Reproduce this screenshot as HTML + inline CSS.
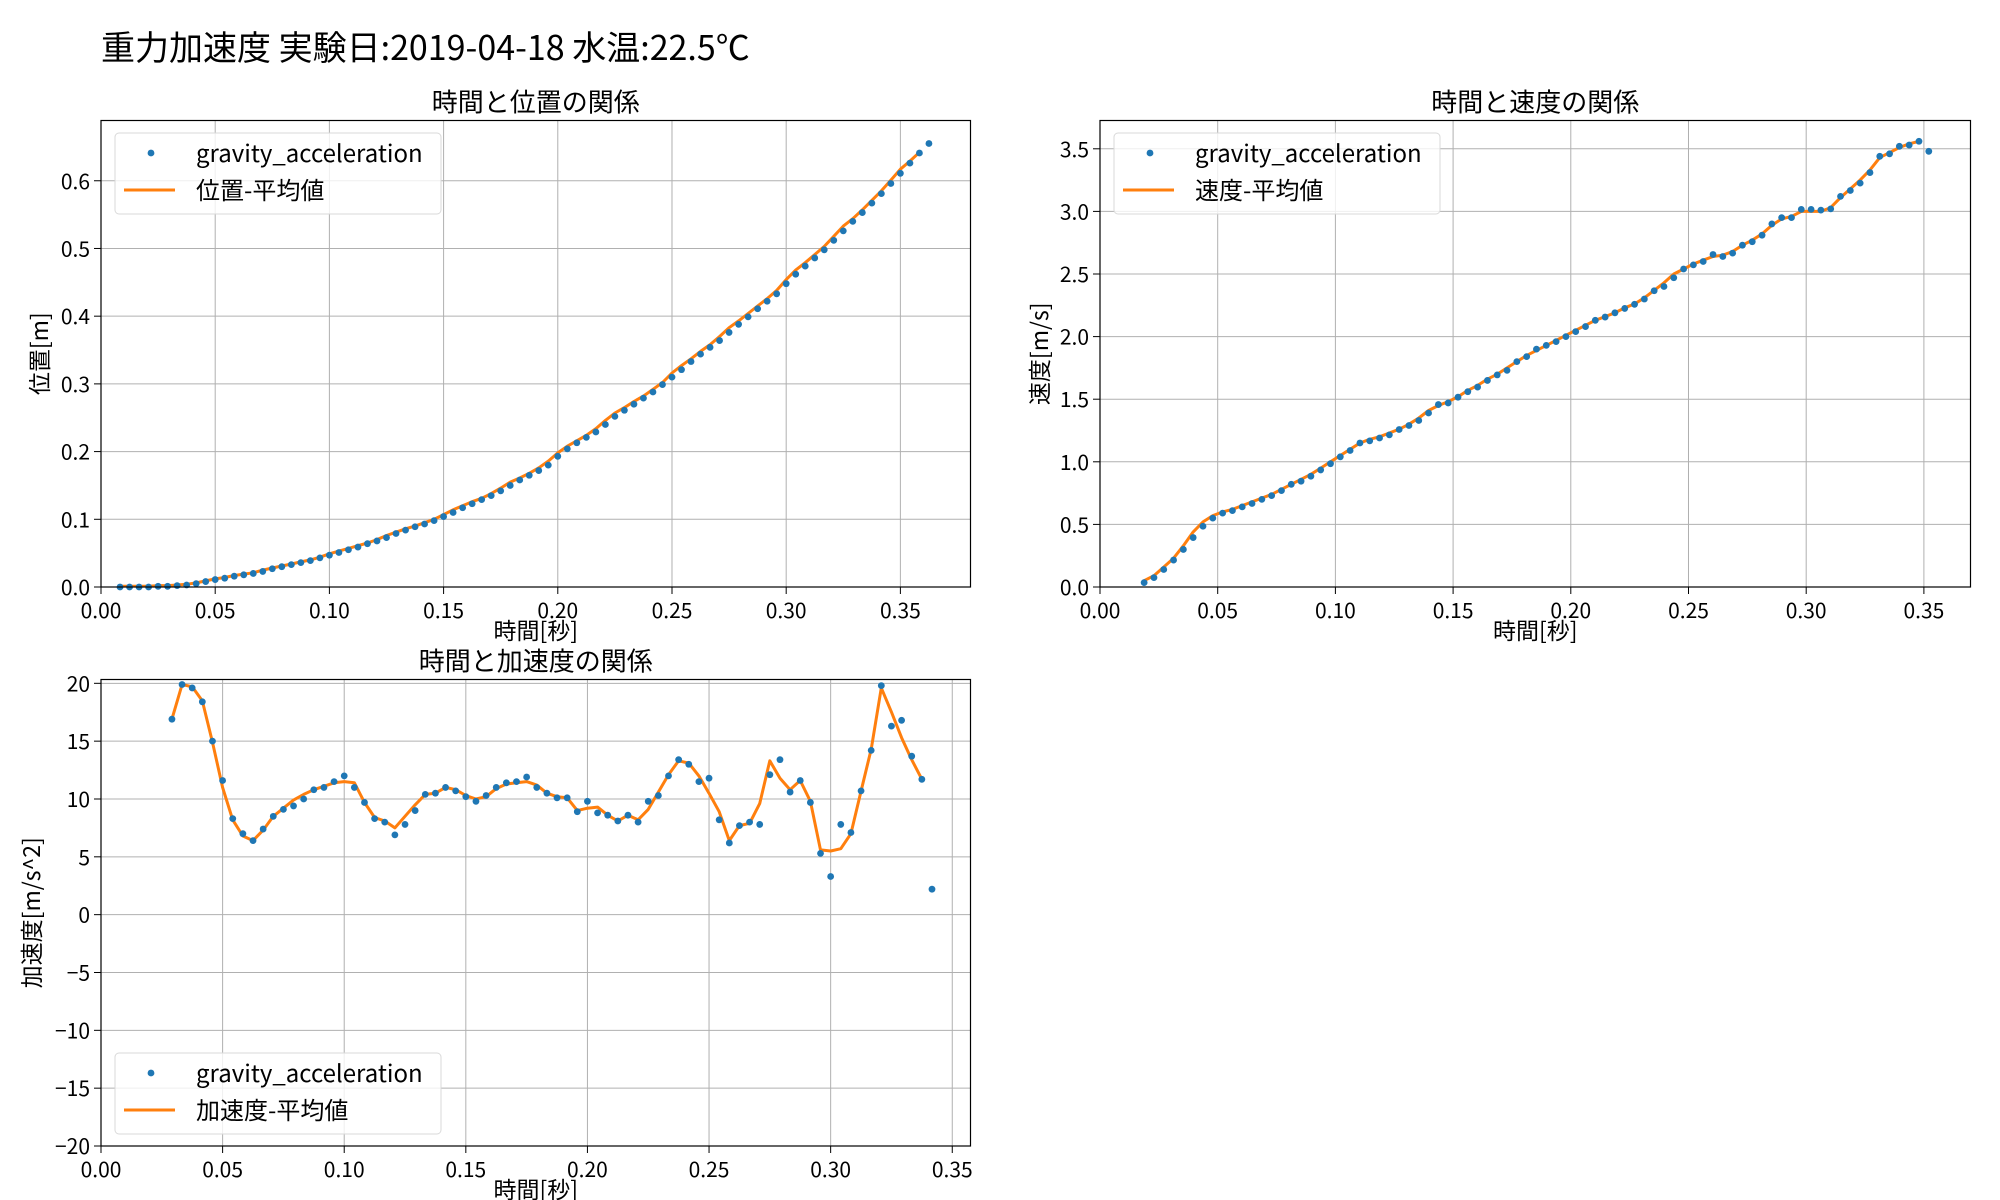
<!DOCTYPE html>
<html><head><meta charset="utf-8">
<style>
html,body{margin:0;padding:0;background:#fff;}
svg{display:block;font-family:"Noto Sans CJK JP","Liberation Sans",sans-serif;}
</style></head>
<body>
<svg id="fig" width="2000" height="1200" viewBox="0 0 2000 1200" xmlns="http://www.w3.org/2000/svg">
<text x="101" y="60" font-size="34" fill="#000">重力加速度 実験日:2019-04-18 水温:22.5℃</text>
</svg>
<script>
// ---------- data ----------
const posTimeIdx0 = 2; // frame index start (1/240 s)
const posValues = [0.000,0.000,0.000,0.000,0.001,0.001,0.002,0.003,0.005,0.008,0.011,0.013,0.016,0.018,0.020,0.023,0.027,0.030,0.033,0.036,0.039,0.043,0.047,0.051,0.055,0.059,0.064,0.068,0.073,0.079,0.084,0.089,0.093,0.098,0.104,0.110,0.117,0.123,0.129,0.135,0.142,0.150,0.158,0.165,0.172,0.180,0.193,0.204,0.213,0.221,0.229,0.240,0.252,0.261,0.270,0.279,0.288,0.299,0.310,0.321,0.333,0.344,0.354,0.364,0.376,0.388,0.399,0.411,0.422,0.433,0.448,0.462,0.474,0.486,0.498,0.512,0.526,0.540,0.553,0.567,0.581,0.596,0.611,0.626,0.641,0.655];
const posMean = [0.001,0.001,0.001,0.001,0.002,0.002,0.003,0.004,0.006,0.009,0.012,0.014,0.017,0.019,0.021,0.025,0.028,0.031,0.034,0.037,0.040,0.044,0.049,0.053,0.057,0.061,0.065,0.070,0.076,0.081,0.086,0.090,0.095,0.100,0.107,0.114,0.120,0.126,0.131,0.138,0.146,0.155,0.161,0.168,0.176,0.186,0.198,0.208,0.216,0.224,0.234,0.246,0.257,0.265,0.274,0.282,0.292,0.302,0.316,0.327,0.337,0.348,0.358,0.370,0.383,0.393,0.404,0.415,0.426,0.438,0.454,0.468,0.479,0.491,0.503,0.518,0.533,0.544,0.557,0.571,0.585,0.601,0.617,0.629,0.642];
const velTimeIdx0 = 4.5;
const velValues = [0.035,0.075,0.14,0.215,0.30,0.395,0.485,0.55,0.59,0.61,0.64,0.667,0.70,0.73,0.77,0.82,0.845,0.885,0.935,0.985,1.04,1.09,1.15,1.167,1.19,1.215,1.258,1.29,1.33,1.39,1.457,1.47,1.516,1.56,1.597,1.65,1.694,1.73,1.80,1.84,1.90,1.93,1.96,2.0,2.04,2.08,2.13,2.156,2.19,2.225,2.258,2.30,2.366,2.40,2.47,2.54,2.573,2.60,2.656,2.64,2.667,2.73,2.758,2.81,2.90,2.95,2.95,3.016,3.016,3.01,3.02,3.12,3.167,3.226,3.31,3.44,3.46,3.52,3.53,3.56,3.48];
const velMean = [0.05,0.09,0.16,0.23,0.33,0.44,0.52,0.57,0.60,0.62,0.65,0.68,0.71,0.74,0.78,0.82,0.86,0.90,0.95,1.00,1.05,1.10,1.15,1.18,1.20,1.23,1.26,1.30,1.35,1.41,1.45,1.48,1.52,1.57,1.61,1.66,1.70,1.75,1.80,1.85,1.89,1.93,1.97,2.01,2.05,2.09,2.13,2.16,2.19,2.23,2.26,2.31,2.37,2.43,2.50,2.54,2.58,2.61,2.64,2.65,2.68,2.73,2.77,2.82,2.89,2.94,2.96,3.00,3.00,3.00,3.03,3.11,3.18,3.25,3.33,3.43,3.47,3.51,3.54,3.56];
const accTimeIdx0 = 7;
const accValues = [16.9,19.9,19.6,18.4,15.0,11.6,8.3,7.0,6.4,7.4,8.5,9.1,9.4,10.0,10.8,11.0,11.5,12.0,11.0,9.7,8.3,8.0,6.9,7.8,9.0,10.4,10.5,11.0,10.7,10.2,9.8,10.3,11.0,11.4,11.5,11.9,11.0,10.5,10.1,10.1,8.9,9.8,8.8,8.6,8.1,8.6,8.0,9.8,10.3,12.0,13.4,13.0,11.5,11.8,8.2,6.2,7.7,8.0,7.8,12.1,13.4,10.6,11.6,9.7,5.3,3.3,7.8,7.1,10.7,14.2,19.8,16.3,16.8,13.7,11.7,2.2];
const accMean = [16.9,19.9,19.7,18.5,14.9,11.0,8.2,6.8,6.4,7.3,8.5,9.2,9.9,10.4,10.8,11.1,11.4,11.5,11.4,9.7,8.4,8.1,7.5,8.5,9.5,10.4,10.5,11.0,10.8,10.3,10.0,10.2,10.9,11.3,11.4,11.5,11.2,10.5,10.2,10.1,9.0,9.2,9.3,8.6,8.1,8.6,8.2,9.1,10.6,12.1,13.3,13.1,12.0,10.5,8.9,6.4,7.7,7.9,9.6,13.3,11.8,10.8,11.6,9.8,5.6,5.5,5.7,7.0,10.7,14.3,19.6,17.5,15.3,13.4,11.7];
const xTicks1 = ["0.00","0.05","0.10","0.15","0.20","0.25","0.30","0.35"];
const yTicks1 = ["0.0","0.1","0.2","0.3","0.4","0.5","0.6"];
const yTicks2 = ["0.0","0.5","1.0","1.5","2.0","2.5","3.0","3.5"];
const yTicks3 = ["−20","−15","−10","−5","0","5","10","15","20"];
const yTickVals3 = [-20,-15,-10,-5,0,5,10,15,20];

// ---------- drawing ----------
const NS = "http://www.w3.org/2000/svg";
const svg = document.getElementById('fig');
function mk(tag, attrs, parent){ const e=document.createElementNS(NS,tag); for(const k in attrs) e.setAttribute(k,attrs[k]); (parent||svg).appendChild(e); return e; }

function chart(cfg){
  const g = mk('g',{});
  
  
  const L=cfg.L,R=cfg.R,T=cfg.T,B=cfg.B;
  const sx = v => L + (v - cfg.xmin)/(cfg.xmax-cfg.xmin)*(R-L);
  const sy = v => B - (v - cfg.ymin)/(cfg.ymax-cfg.ymin)*(B-T);
  cfg.xTicks.forEach(lab=>{
    const v=parseFloat(lab); const x=sx(v);
    const gl=mk('line',{x1:x,x2:x,y1:T,y2:B,stroke:'#b0b0b0','stroke-width':1},g);
    
    
    mk('line',{x1:x,x2:x,y1:B,y2:B+7,stroke:'#000','stroke-width':1},g);
    const t=mk('text',{x:x,y:B+31,'font-size':21,'text-anchor':'middle'},g);
    t.textContent=lab;
    
    
  });
  cfg.yTicks.forEach((lab,i)=>{
    const v=cfg.yVals?cfg.yVals[i]:parseFloat(lab); const y=sy(v);
    const gl=mk('line',{x1:L,x2:R,y1:y,y2:y,stroke:'#b0b0b0','stroke-width':1},g);
    
    
    mk('line',{x1:L-7,x2:L,y1:y,y2:y,stroke:'#000','stroke-width':1},g);
    const t=mk('text',{x:L-11,y:y+8,'font-size':21,'text-anchor':'end'},g);
    t.textContent=lab;
    
    
  });
  const clip = mk('clipPath',{id:cfg.name+'-clip'},g);
  mk('rect',{x:L,y:T,width:R-L,height:B-T},clip);
  const pts = cfg.mean.map((v,i)=>sx((cfg.t0+i)/240).toFixed(1)+','+sy(v).toFixed(1)).join(' ');
  const pl=mk('polyline',{points:pts,fill:'none',stroke:'#ff7f0e','stroke-width':3,'stroke-linejoin':'round','clip-path':'url(#'+cfg.name+'-clip)'},g);
  
  
  cfg.vals.forEach((v,i)=>{
    const c=mk('circle',{cx:sx((cfg.t0+i)/240),cy:sy(v),r:3.4,fill:'#1f77b4'},g);
    
    
  });
  const fr=mk('rect',{x:L,y:T,width:R-L,height:B-T,fill:'none',stroke:'#000','stroke-width':1.2},g);
  
  
  const tt=mk('text',{x:(L+R)/2,y:T-9,'font-size':26,'text-anchor':'middle'},g);
  tt.textContent=cfg.title;
  
  
  const xl=mk('text',{x:(L+R)/2,y:B+52,'font-size':23,'text-anchor':'middle'},g);
  xl.textContent='時間[秒]';
  
  
  const yl=mk('text',{x:0,y:0,'font-size':23,'text-anchor':'middle',transform:'translate('+(cfg.ylx)+','+((T+B)/2)+') rotate(-90)'},g);
  yl.textContent=cfg.ylabel;
  
  
  const lx=cfg.legX, ly=cfg.legY;
  const lg=mk('g',{},g);
  
  
  mk('rect',{x:lx,y:ly,width:326,height:81,rx:4,fill:'#fff','fill-opacity':0.8,stroke:'#d9d9d9','stroke-width':1},lg);
  mk('circle',{cx:lx+36,cy:ly+20,r:3.4,fill:'#1f77b4'},lg);
  const t1=mk('text',{x:lx+81,y:ly+29,'font-size':24},lg);
  t1.textContent='gravity_acceleration';
  
  
  mk('line',{x1:lx+9,x2:lx+60,y1:ly+57,y2:ly+57,stroke:'#ff7f0e','stroke-width':3},lg);
  const t2=mk('text',{x:lx+81,y:ly+66,'font-size':24},lg);
  t2.textContent=cfg.legText;
  
  
}

chart({name:'position-chart',L:101,R:970.5,T:120.5,B:587,xmin:0,xmax:0.3807,ymin:0,ymax:0.689,
  xTicks:xTicks1,yTicks:yTicks1,vals:posValues,mean:posMean,t0:posTimeIdx0,
  title:'時間と位置の関係',ylabel:'位置[m]',ylx:48,legX:115,legY:133,legText:'位置-平均値'});
chart({name:'velocity-chart',L:1100,R:1970.5,T:120.5,B:587,xmin:0,xmax:0.3698,ymin:0,ymax:3.726,
  xTicks:xTicks1,yTicks:yTicks2,vals:velValues,mean:velMean,t0:velTimeIdx0,
  title:'時間と速度の関係',ylabel:'速度[m/s]',ylx:1048,legX:1114,legY:133,legText:'速度-平均値'});
chart({name:'acceleration-chart',L:101,R:970.5,T:679.5,B:1146,xmin:0,xmax:0.3575,ymin:-20,ymax:20.33,
  xTicks:xTicks1,yTicks:yTicks3,yVals:yTickVals3,vals:accValues,mean:accMean,t0:accTimeIdx0,
  title:'時間と加速度の関係',ylabel:'加速度[m/s^2]',ylx:40,legX:115,legY:1053,legText:'加速度-平均値'});
</script>
</body></html>
